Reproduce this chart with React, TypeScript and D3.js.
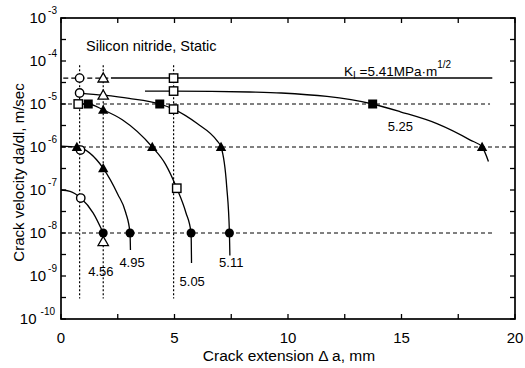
import React from 'react';
import * as d3 from 'd3';

// values (x: mm, y: m/sec)
const xTicks = [0, 5, 10, 15, 20];
const xMinorTicks = [2.5, 7.5, 12.5, 17.5];
const yDecades = [-3, -4, -5, -6, -7, -8, -9, -10];

const stations = [0.82, 1.86, 4.96];
const stationTop = 8e-5;
const stationBottom = 3e-10;

const refLevels = [1e-5, 1e-6, 1e-8];
const refLevelEnds = [18.9, 19.8, 19.1];

const kLevel = 4e-5;
const kDashed = [0.1, 2.2];
const kSolid = [2.2, 19.0];

const curve525 = [[3.7, 2.0e-5], [4.96, 2.0e-5], [8.3, 1.9e-5], [9.7, 1.8e-5], [13.73, 1e-5], [14.95, 6.6e-6], [16.56, 3.5e-6], [18.03, 1.45e-6], [18.55, 1e-6], [18.83, 4.6e-7]];
const curve511 = [[0.82, 1.8e-5], [1.86, 1.6e-5], [3.0, 1.35e-5], [4.35, 1e-5], [4.96, 7.6e-6], [6.0, 3.5e-6], [6.87, 1.4e-6], [7.05, 1e-6], [7.3, 1.2e-7], [7.42, 1e-8], [7.44, 3e-9]];
const curve505 = [[0.76, 1e-5], [1.2, 1e-5], [1.86, 7.3e-6], [2.7, 4.3e-6], [4.02, 1e-6], [4.6, 4e-7], [5.1, 1.1e-7], [5.5, 3e-8], [5.73, 1e-8], [5.75, 2e-9]];
const curve495 = [[0, 1.05e-6], [0.7, 1e-6], [1.86, 3.2e-7], [2.5, 8e-8], [2.85, 3e-8], [3.04, 1e-8], [3.06, 4e-9]];
const curve456 = [[0, 1.0e-7], [0.4, 9.3e-8], [0.87, 6.5e-8], [1.42, 2.9e-8], [1.86, 1e-8]];

const curveLabels = ['4.56', '4.95', '5.05', '5.11', '5.25'];
const curveLabelPos = [[1.76, 1e-9], [3.13, 1.6e-9], [5.78, 6e-10], [7.5, 1.6e-9], [14.95, 2.3e-6]];

const openCircles = [[0.82, 4e-5], [0.82, 1.8e-5], [0.86, 8.5e-7], [0.87, 6.5e-8]];
const openTriangles = [[1.86, 4e-5], [1.86, 1.6e-5], [1.86, 6.3e-9]];
const filledTriangles = [[1.86, 7.3e-6], [1.86, 3.2e-7], [0.7, 1e-6], [4.02, 1e-6], [7.05, 1e-6], [18.55, 1e-6]];
const openSquares = [[4.96, 4e-5], [4.96, 2e-5], [0.76, 1e-5], [4.96, 7.6e-6], [5.1, 1.1e-7]];
const filledSquares = [[1.2, 1e-5], [4.35, 1e-5], [13.73, 1e-5]];
const filledCircles = [[1.86, 1e-8], [3.04, 1e-8], [5.73, 1e-8], [7.42, 1e-8]];

const FONT = '"Liberation Sans", Arial, Helvetica, sans-serif';

export default function App() {
    const margin = { top: 18, right: 10, bottom: 49, left: 61 };
    const width = 525;
    const height = 368;

    const x = d3.scaleLinear().domain([0, 20]).range([margin.left, width - margin.right]);
    const y = d3.scaleLog().domain([1e-10, 1e-3]).range([height - margin.bottom, margin.top]);

    const line = d3.line<number[]>()
        .x((d) => x(d[0]))
        .y((d) => y(d[1]))
        .curve(d3.curveMonotoneX);

    const [x0, x1] = x.range();
    const [y0, y1] = y.range();

    // half-decade ticks on the log axis
    const yTickVals: number[] = [];
    for (let k = -10; k <= -3; k += 0.5) yTickVals.push(Math.pow(10, k));

    const tri = (cx: number, cy: number) => {
        const s = 5.2;
        return `M${cx},${cy - s}L${cx + s},${cy + s * 0.75}L${cx - s},${cy + s * 0.75}Z`;
    };

    return (
        <svg width={width} height={height} style={{ position: 'absolute', left: 0, top: 0, background: '#fff' }}
            fontFamily={FONT}>
            {/* station lines */}
            {stations.map((s) => (
                <line key={`st${s}`} x1={x(s)} x2={x(s)} y1={y(stationTop)} y2={y(stationBottom)}
                    stroke="#000" strokeWidth={1.2} strokeDasharray="2,2" />
            ))}
            {/* reference levels */}
            {refLevels.map((v, i) => (
                <line key={`ref${v}`} x1={x(0)} x2={x(refLevelEnds[i])} y1={y(v)} y2={y(v)}
                    stroke="#000" strokeWidth={1} strokeDasharray="4,3" />
            ))}
            {/* K level */}
            <line x1={x(kDashed[0])} x2={x(kDashed[1])} y1={y(kLevel)} y2={y(kLevel)} stroke="#000" strokeWidth={1.2} strokeDasharray="5,3" />
            <line x1={x(kSolid[0])} x2={x(kSolid[1])} y1={y(kLevel)} y2={y(kLevel)} stroke="#000" strokeWidth={1.5} />

            {/* curves */}
            {[curve456, curve495, curve505, curve511, curve525].map((c, i) => (
                <path key={`c${i}`} d={line(c) || ''} fill="none" stroke="#000" strokeWidth={1.3} />
            ))}

            {/* markers */}
            {openCircles.map((d, i) => (
                <circle key={`oc${i}`} cx={x(d[0])} cy={y(d[1])} r={4.2} fill="#fff" stroke="#000" strokeWidth={1.4} />
            ))}
            {filledCircles.map((d, i) => (
                <circle key={`fc${i}`} cx={x(d[0])} cy={y(d[1])} r={4.5} fill="#000" />
            ))}
            {openSquares.map((d, i) => (
                <rect key={`os${i}`} x={x(d[0]) - 4.2} y={y(d[1]) - 4.2} width={8.4} height={8.4} fill="#fff" stroke="#000" strokeWidth={1.4} />
            ))}
            {filledSquares.map((d, i) => (
                <rect key={`fs${i}`} x={x(d[0]) - 4.5} y={y(d[1]) - 4.5} width={9} height={9} fill="#000" />
            ))}
            {openTriangles.map((d, i) => (
                <path key={`ot${i}`} d={tri(x(d[0]), y(d[1]))} fill="#fff" stroke="#000" strokeWidth={1.3} />
            ))}
            {filledTriangles.map((d, i) => (
                <path key={`ft${i}`} d={tri(x(d[0]), y(d[1]))} fill="#000" />
            ))}

            {/* curve labels */}
            {curveLabels.map((t, i) => (
                <text key={t} x={x(curveLabelPos[i][0])} y={y(curveLabelPos[i][1])} fontSize={13} textAnchor="middle">{t}</text>
            ))}

            {/* K annotation */}
            <text x={344} y={76} fontSize={13.5}>
                K<tspan dy={3} fontSize={10}>I</tspan><tspan dy={-3}> =5.41MPa·m</tspan><tspan dy={-8} fontSize={10}>1/2</tspan>
            </text>

            <text x={86} y={51} fontSize={14.5}>Silicon nitride, Static</text>

            {/* frame */}
            <rect x={x0} y={y1} width={x1 - x0} height={y0 - y1} fill="none" stroke="#000" strokeWidth={1.7} />

            {/* x ticks */}
            {xTicks.concat(xMinorTicks).map((t) => (
                <g key={`xt${t}`}>
                    <line x1={x(t)} x2={x(t)} y1={y0} y2={y0 - 5} stroke="#000" strokeWidth={1.3} />
                    <line x1={x(t)} x2={x(t)} y1={y1} y2={y1 + 5} stroke="#000" strokeWidth={1.3} />
                </g>
            ))}
            {xTicks.map((t) => (
                <text key={`xl${t}`} x={x(t)} y={343} fontSize={15} textAnchor="middle">{t}</text>
            ))}

            {/* y ticks */}
            {yTickVals.map((v, i) => (
                <g key={`yt${i}`}>
                    <line x1={x0} x2={x0 + 5} y1={y(v)} y2={y(v)} stroke="#000" strokeWidth={1.3} />
                    <line x1={x1} x2={x1 - 5} y1={y(v)} y2={y(v)} stroke="#000" strokeWidth={1.3} />
                </g>
            ))}
            {yDecades.map((k) => (
                <text key={`yl${k}`} x={k === -10 ? 55 : 57} y={y(Math.pow(10, k)) + 5} fontSize={15} textAnchor="end">
                    10<tspan dx={k === -10 ? 4 : 2} dy={-9} fontSize={10}>{k}</tspan>
                </text>
            ))}

            {/* axis titles */}
            <text x={289} y={361} fontSize={15.5} textAnchor="middle">Crack extension  Δ a, mm</text>
            <text transform={`translate(24,${(y0 + y1) / 2 + 4}) rotate(-90)`} fontSize={15} textAnchor="middle">
                Crack velocity da/dl, m/sec
            </text>
        </svg>
    );
}
